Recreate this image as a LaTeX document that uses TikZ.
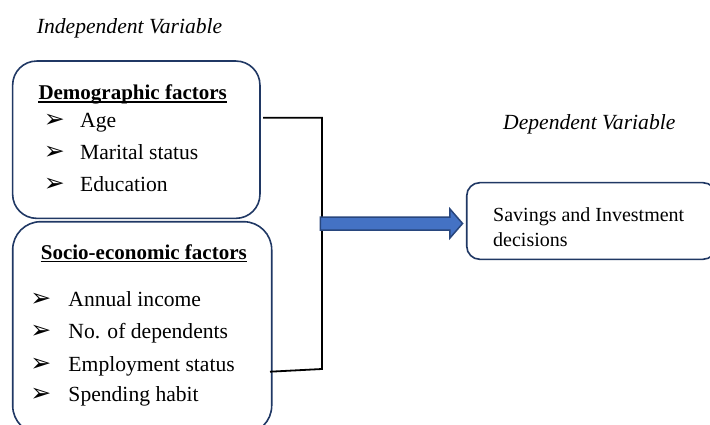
\documentclass[tikz,border=0pt]{standalone}
\usepackage{fontspec}
\setmainfont{Liberation Serif}
\newfontfamily\bulletfont{DejaVu Sans}
\usetikzlibrary{shapes.arrows,positioning}
\definecolor{boxnavy}{RGB}{32,56,100}
\definecolor{arrowblue}{RGB}{68,114,196}
\definecolor{arrowedge}{RGB}{40,70,125}
\newcommand{\itembullet}[1]{\hspace{-3pt}\makebox[#1][l]{\bulletfont\fontsize{25}{25}\selectfont ➢}}
\tikzset{
  framebox/.style={
    rectangle, draw=boxnavy, fill=white, line width=1.6pt,
    inner sep=0pt
  },
  heading/.style={
    anchor=base west, inner sep=0pt,
    font=\fontsize{21}{21}\selectfont\bfseries
  },
  listitem/.style={
    anchor=base west, inner sep=0pt,
    font=\fontsize{21.6}{21.6}\selectfont
  },
  varlabel/.style={
    anchor=base west, inner sep=0pt,
    font=\fontsize{21.6}{21.6}\selectfont\itshape
  },
  bracketline/.style={line width=1.8pt, draw=black},
  headline/.style={line width=1.3pt, draw=black},
  flowarrow/.style={
    single arrow, draw=arrowedge, fill=arrowblue, line width=1.5pt,
    inner xsep=0pt, inner ysep=5.75pt, minimum height=142.3pt,
    single arrow head extend=8pt, single arrow tip angle=98
  }
}

\begin{document}
\begin{tikzpicture}[x=1pt,y=-1pt]
  \clip (0,0) rectangle (710,425);
  \fill[white] (0,0) rectangle (710,425);

  \node[varlabel] (indlabel) at (36.7,33.3) {Independent Variable};
  \node[varlabel] (deplabel) at (503,129.3) {Dependent Variable};

  \node[framebox, rounded corners=24pt, minimum width=247.3pt,
    minimum height=157.3pt] (demobox) at (136.3,139.7) {};
  \node[framebox, rounded corners=28pt, minimum width=259pt,
    minimum height=212pt] (sociobox) at (142.2,327.7) {};
  \node[framebox, rounded corners=13pt, minimum width=249.3pt,
    minimum height=76.6pt] (decisionbox) at (591.4,221) {};

  \node[heading] (demohead) at (38.3,99.3) {Demographic factors};
  \draw[headline] ([yshift=-2.8pt]demohead.base west)
    -- ([yshift=-2.8pt]demohead.base east);
  \node[listitem] (age) at (46.7,127.3) {\itembullet{36.3pt}Age};
  \node[listitem] (marital) at (46.7,160) {\itembullet{36.3pt}Marital status};
  \node[listitem] (education) at (46.7,191.7) {\itembullet{36.3pt}Education};

  \node[heading] (sociohead) at (40.7,259) {Socio-economic factors};
  \draw[headline] ([yshift=-2.8pt]sociohead.base west)
    -- ([yshift=-2.8pt]sociohead.base east);
  \node[listitem] (income) at (33.3,306.7) {\itembullet{38pt}Annual income};
  \node[listitem] (dependents) at (33.3,338.3) {\itembullet{38pt}No. of dependents};
  \node[listitem] (employment) at (33.3,371) {\itembullet{38pt}Employment status};
  \node[listitem] (spending) at (33.3,401.7) {\itembullet{38pt}Spending habit};

  % base anchor sits on the last line
  \node[anchor=base west, inner sep=0pt, align=left,
    font=\fontsize{20}{25.5}\selectfont] (decisiontext) at (493,247)
    {Savings and Investment\\decisions};

  \coordinate (demoend) at (263,117.7);
  \coordinate (jointtop) at (322,117.7);
  \coordinate (jointbot) at (322,369);
  \coordinate (socioend) at (270,371.7);
  \draw[bracketline] (demoend) -- (jointtop) -- (jointbot) -- (socioend);

  \node[flowarrow, anchor=tip] (mainarrow)
    at ([xshift=-2.4pt,yshift=-2.5pt]decisionbox.west) {};
\end{tikzpicture}
\end{document}
